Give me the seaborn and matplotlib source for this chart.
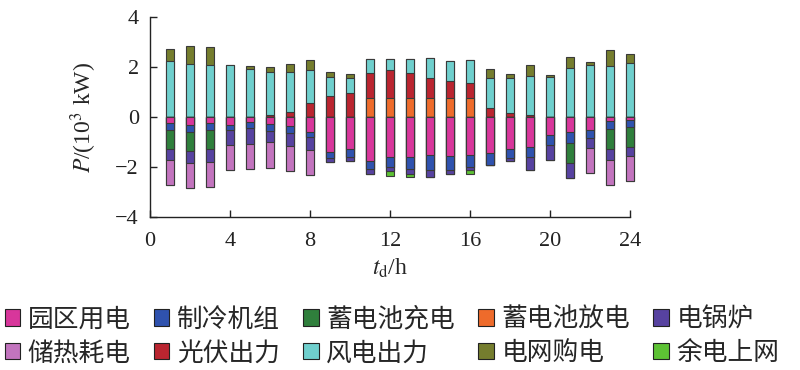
import numpy as np
import pandas as pd
import matplotlib
matplotlib.use('Agg')
import matplotlib.pyplot as plt
from matplotlib.patches import Patch
import seaborn as sns

# hours of the day
hours = np.arange(1, 25)

# consumption side (plotted negative), 10^3 kW
park_load = [0.23, 0.31, 0.23, 0.29, 0.17, 0.28, 0.33, 0.59, 1.37, 1.28, 1.75, 1.59,
             1.60, 1.51, 1.55, 1.49, 1.44, 1.25, 1.17, 0.69, 0.59, 0.49, 0.15, 0.12]
chiller = [0.26, 0.26, 0.26, 0.22, 0.27, 0.27, 0.30, 0.21, 0.27, 0.32, 0.32, 0.40,
           0.47, 0.60, 0.56, 0.50, 0.48, 0.39, 0.40, 0.43, 0.44, 0.34, 0.32, 0.28]
batt_charge = [0.78, 0.79, 0.78, 0, 0, 0, 0, 0, 0, 0, 0, 0,
               0, 0, 0, 0, 0, 0, 0, 0, 0.80, 0, 0.80, 0.79]
e_boiler = [0.45, 0.47, 0.52, 0.58, 0.61, 0.44, 0.52, 0.52, 0.17, 0.16, 0.22, 0.16,
            0.20, 0.29, 0.18, 0.13, 0, 0.12, 0.53, 0.60, 0.60, 0.40, 0.44, 0.37]
heat_store = [1.01, 1.02, 1.01, 1.02, 1.02, 1.04, 1.02, 1.01, 0, 0, 0, 0,
              0, 0, 0, 0, 0, 0, 0, 0, 0, 1.00, 1.01, 1.01]
export = [0, 0, 0, 0, 0, 0, 0, 0, 0, 0, 0, 0.21,
          0.12, 0, 0, 0.16, 0, 0, 0, 0, 0, 0, 0, 0]

# supply side (plotted positive)
batt_discharge = [0, 0, 0, 0, 0, 0, 0, 0, 0, 0, 0.76, 0.76,
                  0.76, 0.76, 0.76, 0.76, 0, 0, 0, 0, 0, 0, 0, 0]
pv = [0, 0, 0, 0, 0, 0.08, 0.21, 0.57, 0.84, 0.97, 1.03, 1.13,
      1.03, 0.83, 0.71, 0.61, 0.36, 0.16, 0.08, 0, 0, 0, 0, 0]
wind = [2.24, 2.13, 2.09, 2.09, 1.93, 1.75, 1.59, 1.31, 0.79, 0.62, 0.53, 0.46,
        0.56, 0.80, 0.80, 0.91, 1.23, 1.43, 1.57, 1.63, 1.96, 2.09, 2.04, 2.17]
grid_buy = [0.49, 0.71, 0.71, 0.02, 0.11, 0.18, 0.35, 0.43, 0.17, 0.16, 0, 0,
            0, 0, 0, 0, 0.33, 0.16, 0.43, 0.06, 0.44, 0.12, 0.67, 0.38]

colors = {
    '园区用电': '#D8369B',
    '制冷机组': '#2F52AE',
    '蓄电池充电': '#2F7F3C',
    '蓄电池放电': '#EE6B2B',
    '电锅炉': '#5742A0',
    '储热耗电': '#C274BE',
    '光伏出力': '#BA2530',
    '风电出力': '#6FCFCD',
    '电网购电': '#757D2E',
    '余电上网': '#5DC234',
}

sns.set_theme(style='ticks')
plt.rcParams['font.family'] = ['Liberation Serif', 'Noto Sans CJK SC']
plt.rcParams['mathtext.fontset'] = 'stix'

fig = plt.figure(figsize=(8, 3.7), dpi=100)
ax = fig.add_axes([0.1875, 0.413, 0.6, 0.54])

bar_kw = dict(native_scale=True, width=0.43, saturation=1, errorbar=None,
              edgecolor='#3a3a3a', linewidth=0.8, ax=ax)

# positive stack, bottom -> top
pos_layers = [('蓄电池放电', batt_discharge), ('光伏出力', pv),
              ('风电出力', wind), ('电网购电', grid_buy)]
# negative stack, from zero downward
neg_layers = [('园区用电', park_load), ('制冷机组', chiller), ('蓄电池充电', batt_charge),
              ('电锅炉', e_boiler), ('储热耗电', heat_store), ('余电上网', export)]

def draw_stack(layers, sign):
    cum = np.cumsum([np.array(v, dtype=float) for _, v in layers], axis=0) * sign
    # draw outermost first so inner segments overlay it
    for i in range(len(layers) - 1, -1, -1):
        name = layers[i][0]
        df = pd.DataFrame({'hour': hours, 'P': cum[i]})
        sns.barplot(data=df, x='hour', y='P', color=colors[name], **bar_kw)

draw_stack(pos_layers, 1)
draw_stack(neg_layers, -1)
for p in ax.patches:
    p.set_clip_on(False)

ax.set_xlim(0, 24)
ax.set_ylim(-4, 4)
ax.set_xticks(np.arange(0, 25, 4))
ax.set_xticklabels([str(v) for v in range(0, 25, 4)])
ax.set_yticks(np.arange(-4, 5, 2))
ax.set_yticklabels(['\u22124', '\u22122', '0', '2', '4'])
ax.tick_params(direction='in', length=5, width=1, labelsize=16, colors='#222222')
ax.tick_params(axis='x', pad=11)
ax.tick_params(axis='y', pad=8)
for s in ['left', 'bottom']:
    ax.spines[s].set_linewidth(1)
    ax.spines[s].set_color('#222222')
sns.despine(ax=ax)
ax.set_xlabel(r'$t_{\rm d}$/h', fontsize=17, labelpad=4)
ax.set_ylabel(r'$P$/(10$^3$ kW)', fontsize=17, labelpad=12)

# legend: 2 rows x 5 columns, matplotlib fills column-wise
order = ['园区用电', '储热耗电', '制冷机组', '光伏出力', '蓄电池充电',
         '风电出力', '蓄电池放电', '电网购电', '电锅炉', '余电上网']
handles = [Patch(facecolor=colors[n], edgecolor='#222222', linewidth=0.8, label=n) for n in order]
fig.legend(handles=handles, loc='upper center', bbox_to_anchor=(0.49, 0.22), ncol=5,
           frameon=False, handlelength=0.6, handleheight=0.6, handletextpad=0.3,
           columnspacing=0.9, labelspacing=0.3, borderpad=0.2,
           prop={'family': ['Noto Sans CJK SC'], 'size': 18.5})

fig.savefig('out.png', dpi=100)
